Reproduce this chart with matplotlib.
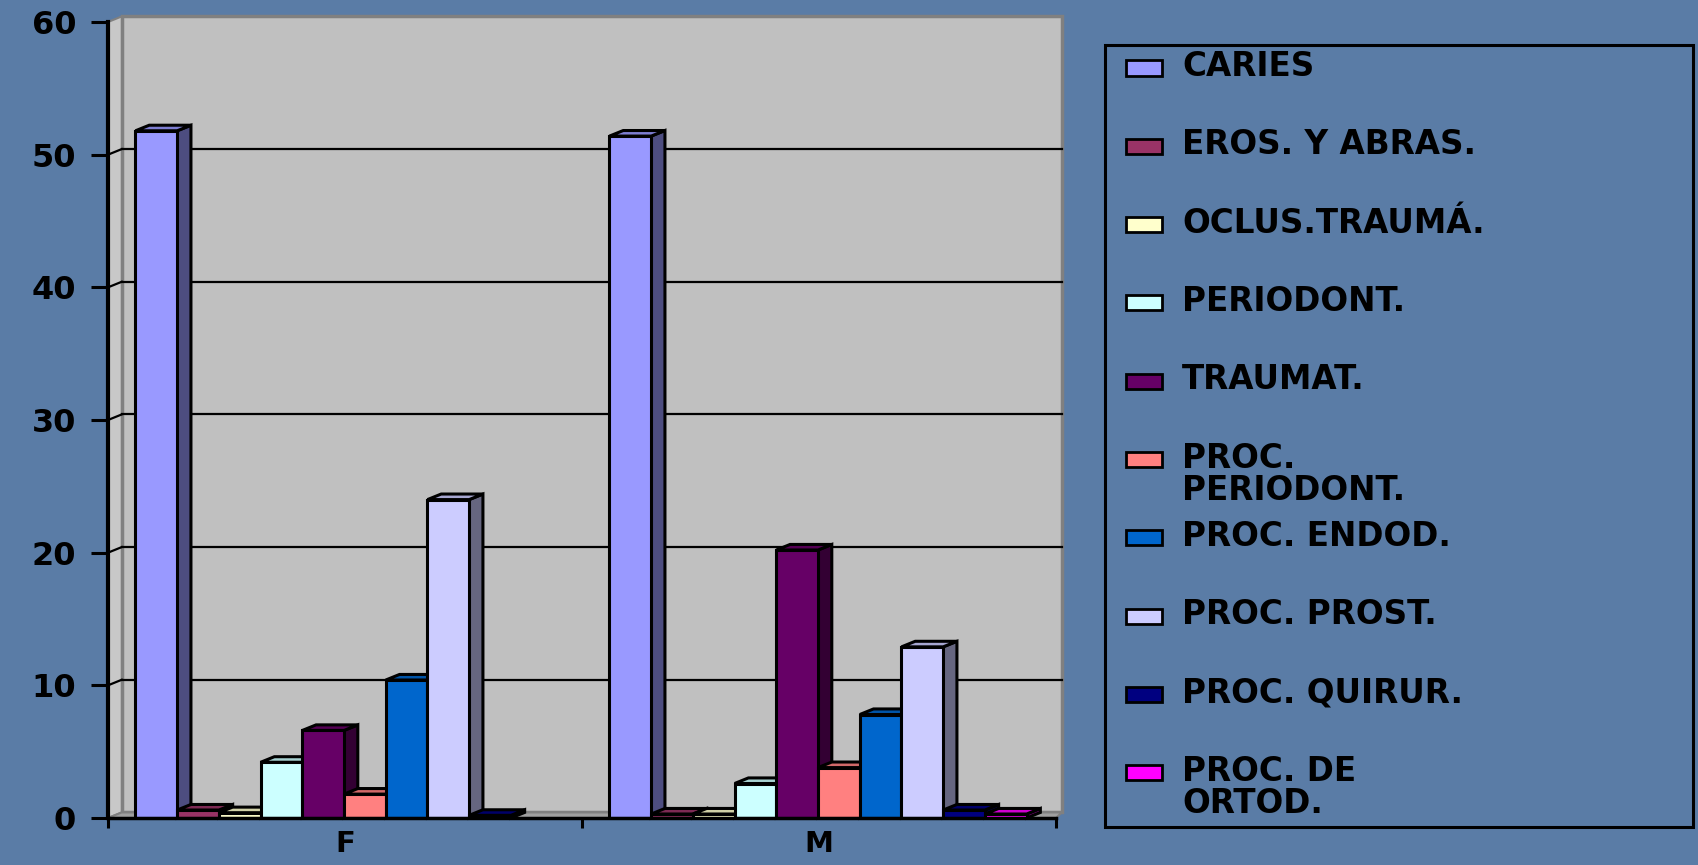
import matplotlib.pyplot as plt
from matplotlib.patches import Polygon, Rectangle
from matplotlib.colors import to_rgb

# datos
categorias = ['F', 'M']
series = ['CARIES', 'EROS. Y ABRAS.', 'OCLUS.TRAUMÁ.', 'PERIODONT.', 'TRAUMAT.',
          'PROC.\nPERIODONT.', 'PROC. ENDOD.', 'PROC. PROST.', 'PROC. QUIRUR.',
          'PROC. DE\nORTOD.']
valores_f = [51.8, 0.6, 0.4, 4.2, 6.6, 1.8, 10.4, 24.0, 0.2, 0.0]
valores_m = [51.4, 0.3, 0.3, 2.6, 20.2, 3.8, 7.8, 12.9, 0.6, 0.3]
colores = ['#9999ff', '#993366', '#ffffcc', '#ccffff', '#660066',
           '#ff8080', '#0066cc', '#ccccff', '#000080', '#ff00ff']
y_ticks = [0, 10, 20, 30, 40, 50, 60]

W, H = 1698, 865
fondo = '#5a7ca6'

fig = plt.figure(figsize=(W / 100, H / 100), dpi=100)
fig.patch.set_facecolor(fondo)
ax = fig.add_axes([108 / W, 47 / H, 948 / W, 796 / H])
ax.patch.set_visible(False)
ax.set_xlim(-0.5, 1.5)
ax.set_ylim(0, 60)

# profundidad del efecto 3D
dx, dy = 0.029, 0.42
x_der = 1.512  # borde derecho de la pared del fondo

# paredes
ax.add_patch(Polygon([(-0.5 + dx, dy), (x_der, dy), (x_der, 60 + dy), (-0.5 + dx, 60 + dy)],
                     closed=True, facecolor='#c0c0c0', edgecolor='#808080',
                     lw=2.5, zorder=0, clip_on=False))
ax.add_patch(Polygon([(-0.5, 0), (-0.5 + dx, dy), (-0.5 + dx, 60 + dy), (-0.5, 60)],
                     closed=True, facecolor='#c8c8c8', edgecolor='#808080',
                     lw=1.5, zorder=0.5, clip_on=False))
ax.add_patch(Polygon([(-0.5, 0), (1.5, 0), (x_der, dy), (-0.5 + dx, dy)],
                     closed=True, facecolor='#a0a0a0', edgecolor='#808080',
                     lw=1.5, zorder=0.5, clip_on=False))
for t in y_ticks[1:-1]:
    ax.plot([-0.5 + dx, x_der], [t + dy, t + dy], color='black', lw=1.6,
            zorder=1, clip_on=False)
    ax.plot([-0.5, -0.5 + dx], [t, t + dy], color='black', lw=1.6, zorder=1)

# barras
w = 0.088
inicio = -0.442
for g, vals in enumerate([valores_f, valores_m]):
    for i, v in enumerate(vals):
        x = g + inicio + i * w
        c = to_rgb(colores[i])
        lado = tuple(k * 0.5 for k in c)
        techo = tuple(k * 0.82 for k in c)
        lw = 2.2 if v > 0 else 0
        zf = 4 + 2 * i
        ax.bar(x, v, width=w, align='edge', color=colores[i], edgecolor='black',
               linewidth=lw, zorder=zf)
        if v > 0:
            ax.add_patch(Polygon([(x + w, 0), (x + w + dx, dy), (x + w + dx, v + dy), (x + w, v)],
                                 closed=True, facecolor=lado, edgecolor='black',
                                 lw=2.2, zorder=zf - 1, clip_on=False))
            ax.add_patch(Polygon([(x, v), (x + dx, v + dy), (x + w + dx, v + dy), (x + w, v)],
                                 closed=True, facecolor=techo, edgecolor='black',
                                 lw=2.2, zorder=zf - 1, clip_on=False))

# ejes
for s in ['top', 'right']:
    ax.spines[s].set_visible(False)
ax.spines['left'].set_linewidth(3)
ax.spines['bottom'].set_linewidth(2.5)
ax.spines['left'].set_zorder(30)
ax.spines['bottom'].set_zorder(30)

ax.set_yticks(y_ticks)
ax.set_yticklabels([str(t) for t in y_ticks], fontsize=23, fontweight='heavy')
ax.tick_params(axis='y', length=12, width=2.2, direction='out', pad=11)

ax.set_xticks([-0.5, 0.5, 1.5])
ax.set_xticklabels(['', '', ''])
ax.tick_params(axis='x', which='major', length=7, width=2.2, direction='out')
ax.set_xticks([0, 1], minor=True)
ax.set_xticklabels(categorias, minor=True, fontsize=21, fontweight='heavy')
ax.tick_params(axis='x', which='minor', length=0, pad=9)

# leyenda
def fx(px):
    return px / W

def fy(py):
    return 1 - py / H

fig.patches.append(Rectangle((fx(1105), fy(827)), fx(1693) - fx(1105), (827 - 45) / H,
                             transform=fig.transFigure, facecolor='none',
                             edgecolor='black', lw=2.2))
for i, nombre in enumerate(series):
    yc = 68 + i * 78.3
    fig.patches.append(Rectangle((fx(1126), fy(yc + 7.5)), 36 / W, 15 / H,
                                 transform=fig.transFigure, facecolor=colores[i],
                                 edgecolor='black', lw=2))
    fig.text(fx(1182), fy(yc - 18), nombre, fontsize=23.5, fontweight='heavy',
             va='top', ha='left', linespacing=0.98)

fig.savefig('out.png', dpi=100, facecolor=fondo)
